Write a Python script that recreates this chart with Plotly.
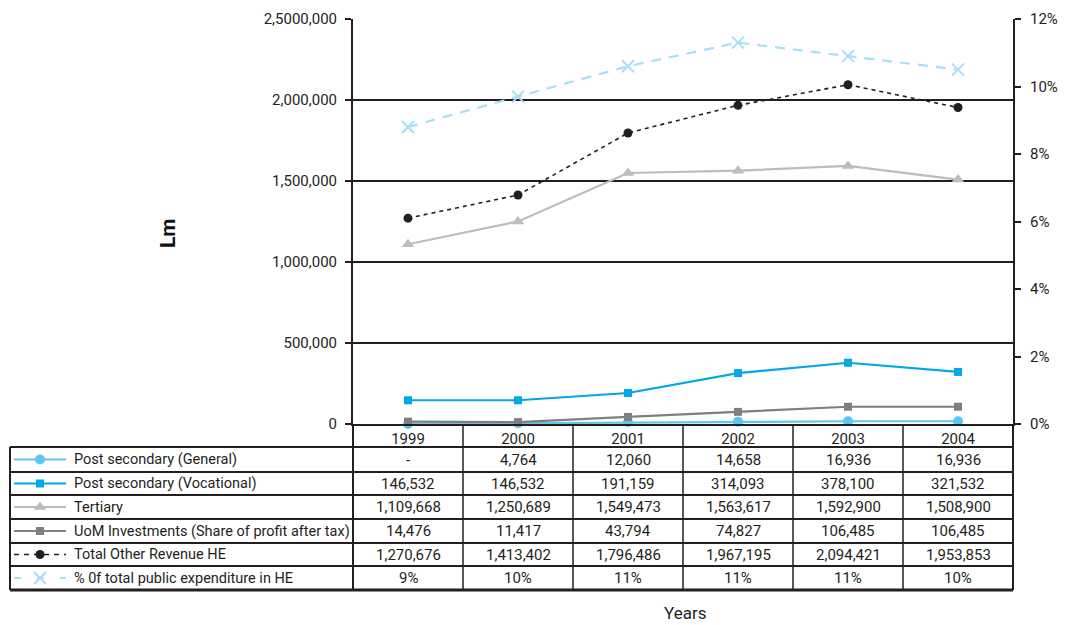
import plotly.graph_objects as go

# ---- data ----
years = ["1999", "2000", "2001", "2002", "2003", "2004"]
post_sec_general = [0, 4764, 12060, 14658, 16936, 16936]
post_sec_vocational = [146532, 146532, 191159, 314093, 378100, 321532]
tertiary = [1109668, 1250689, 1549473, 1563617, 1592900, 1508900]
uom_investments = [14476, 11417, 43794, 74827, 106485, 106485]
total_other_revenue = [1270676, 1413402, 1796486, 1967195, 2094421, 1953853]
pct_public_expenditure = [8.8, 9.7, 10.6, 11.3, 10.9, 10.5]

series_names = [
    "Post secondary (General)",
    "Post secondary (Vocational)",
    "Tertiary",
    "UoM Investments (Share of profit after tax)",
    "Total Other Revenue HE",
    "% 0f total public expenditure in HE",
]
left_tick_vals = [0, 500000, 1000000, 1500000, 2000000, 2500000]
left_tick_text = ["0", "500,000", "1,000,000", "1,500,000", "2,000,000", "2,5000,000"]
right_tick_vals = [0, 2, 4, 6, 8, 10, 12]
right_tick_text = [f"{v}%" for v in right_tick_vals]

# ---- layout geometry (pixels) ----
W, H = 1068, 625
L, R, T, B = 353, 1013, 19, 424
row_edges = [447, 472, 495, 519, 543, 566, 590]
TABLE_LEFT = 10
FONT = "Roboto, sans-serif"
INK = "#231f20"
FS = 14.5

styles = [
    dict(line=dict(color="#5cc6ef", width=2.2), marker=dict(symbol="circle", size=10, color="#5cc6ef")),
    dict(line=dict(color="#00a8e6", width=2.2), marker=dict(symbol="square", size=8, color="#00a8e6")),
    dict(line=dict(color="#bdbdbd", width=2.2), marker=dict(symbol="triangle-up", size=11, color="#bdbdbd")),
    dict(line=dict(color="#7f7f7f", width=2.2), marker=dict(symbol="square", size=8, color="#7f7f7f")),
    dict(line=dict(color=INK, width=1.6, dash="4px,4px"), marker=dict(symbol="circle", size=9, color=INK)),
    dict(line=dict(color="#a9def7", width=2.2, dash="10px,8px"),
         marker=dict(symbol="x-thin-open", size=12, color="#a9def7", line=dict(width=2, color="#a9def7"))),
]
values = [post_sec_general, post_sec_vocational, tertiary, uom_investments,
          total_other_revenue, pct_public_expenditure]


def fmt(v, is_pct):
    if is_pct:
        return f"{v:.0f}%"
    if v == 0:
        return "-"
    return f"{v:,}"


fig = go.Figure()

# legend glyphs inside the data table (pixel-coordinate overlay axes)
for i, st in enumerate(styles):
    cy = (row_edges[i] + row_edges[i + 1]) / 2
    line = dict(st["line"])
    if i == 4:
        line["dash"] = "5px,5px"
    if i == 5:
        line["dash"] = "7px,16px"
    fig.add_trace(go.Scatter(
        x=[14, 40, 66], y=[cy, cy, cy], mode="lines", line=line,
        xaxis="x3", yaxis="y3", showlegend=False, hoverinfo="skip",
    ))
    fig.add_trace(go.Scatter(
        x=[40], y=[cy], mode="markers", marker=st["marker"],
        xaxis="x3", yaxis="y3", showlegend=False, hoverinfo="skip",
    ))

# main series
for i, (name, vals, st) in enumerate(zip(series_names, values, styles)):
    is_pct = i == 5
    fig.add_trace(go.Scatter(
        x=years, y=vals, name=name, mode="lines+markers",
        line=st["line"], marker=st["marker"],
        yaxis="y2" if is_pct else "y", cliponaxis=False, showlegend=False,
    ))

shapes = []
ln = dict(color=INK, width=2)
# horizontal table rules
for k, y in enumerate(row_edges):
    shapes.append(dict(type="line", xref="x3", yref="y3", x0=TABLE_LEFT, x1=R, y0=y, y1=y,
                       line=dict(color=INK, width=3 if k == len(row_edges) - 1 else 2)))
# outer verticals
shapes.append(dict(type="line", xref="x3", yref="y3", x0=TABLE_LEFT, x1=TABLE_LEFT,
                   y0=row_edges[0], y1=row_edges[-1], line=ln))
shapes.append(dict(type="line", xref="x3", yref="y3", x0=L, x1=L, y0=B, y1=row_edges[-1], line=ln))
shapes.append(dict(type="line", xref="x3", yref="y3", x0=R, x1=R, y0=B, y1=row_edges[-1], line=ln))
# column separators at category boundaries
for i in range(len(years) - 1):
    shapes.append(dict(type="line", xref="x", yref="y3", x0=i + 0.5, x1=i + 0.5,
                       y0=B, y1=row_edges[-1], line=dict(color=INK, width=1.5)))

annotations = []
for i, (name, vals) in enumerate(zip(series_names, values)):
    cy = (row_edges[i] + row_edges[i + 1]) / 2
    annotations.append(dict(xref="x3", yref="y3", x=72, y=cy, text=name, showarrow=False,
                            xanchor="left", yanchor="middle", font=dict(size=FS, color=INK)))
    for j, v in enumerate(vals):
        annotations.append(dict(xref="x", yref="y3", x=j, y=cy, text=fmt(v, i == 5),
                                showarrow=False, xanchor="center", yanchor="middle",
                                font=dict(size=FS + 0.5, color=INK)))

annotations.append(dict(xref="x3", yref="y3", x=168, y=233, text="<b>Lm</b>", textangle=-90,
                        showarrow=False, font=dict(size=21, color="#111")))
annotations.append(dict(xref="x3", yref="y3", x=685, y=625, yanchor="bottom", text="Years",
                        showarrow=False, font=dict(size=17, color=INK)))

fig.update_layout(
    width=W, height=H,
    margin=dict(l=0, r=0, t=0, b=0, pad=0),
    paper_bgcolor="white", plot_bgcolor="rgba(0,0,0,0)",
    font=dict(family=FONT, size=FS, color=INK),
    xaxis=dict(domain=[L / W, R / W], type="category", range=[-0.5, 5.5],
               showline=True, linecolor=INK, linewidth=2, ticks="",
               showgrid=False, tickfont=dict(size=15), anchor="y", automargin=False),
    yaxis=dict(domain=[1 - B / H, 1 - T / H], range=[0, 2500000],
               tickvals=left_tick_vals, ticktext=left_tick_text,
               showline=True, linecolor=INK, linewidth=2,
               ticks="outside", ticklen=6, tickwidth=2, tickcolor=INK,
               ticklabelstandoff=5,
               showgrid=True, gridcolor=INK, gridwidth=1.5, zeroline=False,
               tickfont=dict(size=15), anchor="x", automargin=False),
    yaxis2=dict(domain=[1 - B / H, 1 - T / H], range=[0, 12], overlaying="y", side="right",
                tickvals=right_tick_vals, ticktext=right_tick_text,
                showline=True, linecolor=INK, linewidth=2,
                ticks="outside", ticklen=6, tickwidth=2, tickcolor=INK,
                ticklabelstandoff=6,
                showgrid=False, zeroline=False, tickfont=dict(size=15), anchor="x",
                automargin=False),
    xaxis3=dict(domain=[0, 1], range=[0, W], visible=False, anchor="y3", automargin=False),
    yaxis3=dict(domain=[0, 1], range=[H, 0], visible=False, anchor="x3", automargin=False),
    shapes=shapes,
    annotations=annotations,
)

fig.write_html("out.html")
